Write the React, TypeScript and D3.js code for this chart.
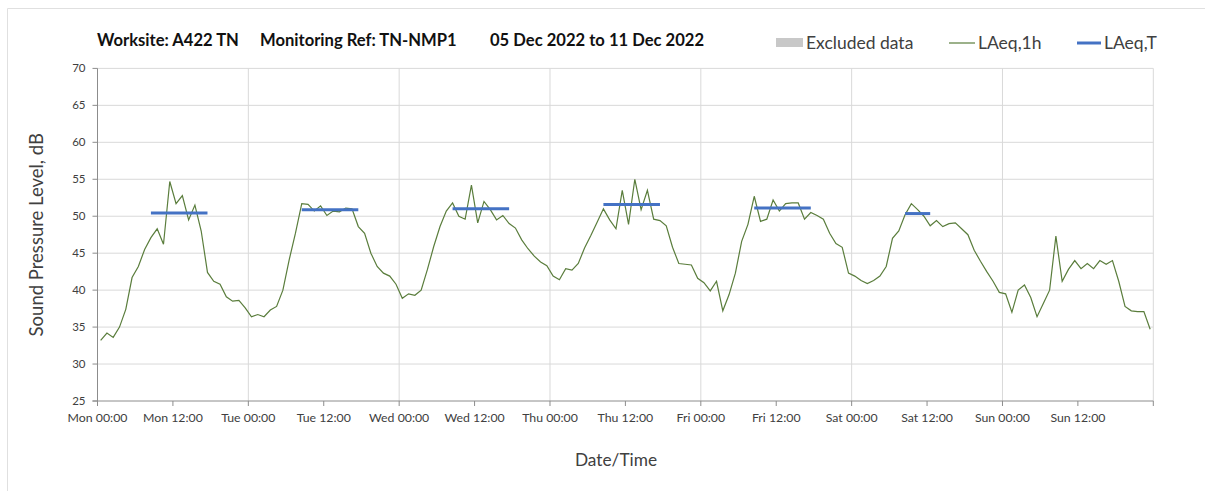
import React from 'react';
import * as d3 from 'd3';

// hourly LAeq,1h readings, one array per day (00:00 .. 23:00)
const monday = [33.2, 34.2, 33.6, 35.0, 37.4, 41.7, 43.2, 45.5, 47.1, 48.3, 46.2, 54.7, 51.7, 52.8, 49.5, 51.5, 48.0, 42.4, 41.2, 40.8, 39.1, 38.5, 38.6, 37.6];
const tuesday = [36.4, 36.7, 36.4, 37.3, 37.8, 40.0, 44.1, 47.7, 51.7, 51.6, 50.7, 51.4, 50.1, 50.7, 50.6, 51.1, 51.0, 48.6, 47.7, 45.0, 43.2, 42.3, 41.9, 40.8];
const wednesday = [38.9, 39.5, 39.3, 40.0, 42.8, 45.9, 48.6, 50.7, 51.8, 50.0, 49.6, 54.2, 49.1, 52.0, 50.9, 49.5, 50.1, 49.0, 48.4, 46.8, 45.6, 44.6, 43.8, 43.3];
const thursday = [41.9, 41.4, 42.9, 42.7, 43.6, 45.7, 47.4, 49.2, 51.0, 49.5, 48.3, 53.5, 48.9, 55.0, 50.9, 53.5, 49.6, 49.4, 48.7, 45.8, 43.6, 43.5, 43.4, 41.6];
const friday = [41.0, 39.9, 41.2, 37.2, 39.4, 42.3, 46.6, 48.9, 52.7, 49.3, 49.6, 52.2, 50.7, 51.7, 51.8, 51.8, 49.6, 50.5, 50.1, 49.6, 47.7, 46.3, 45.8, 42.3];
const saturday = [41.9, 41.3, 40.9, 41.3, 41.9, 43.2, 47.0, 48.0, 50.2, 51.7, 50.9, 50.0, 48.7, 49.4, 48.6, 49.0, 49.1, 48.3, 47.5, 45.4, 43.9, 42.5, 41.2, 39.7];
const sunday = [39.5, 37.0, 40.0, 40.7, 39.0, 36.4, 38.2, 40.0, 47.3, 41.2, 42.8, 44.0, 42.9, 43.6, 42.9, 44.0, 43.5, 44.0, 41.2, 37.8, 37.2, 37.1, 37.1, 34.7];

// LAeq,T per daytime period: day index, first hour, last hour, level
const periodDays = [0, 1, 2, 3, 4, 5];
const periodStart = [8, 8, 8, 8, 8, 8];
const periodEnd = [17, 17, 17, 17, 17, 12];
const periodLevel = [50.45, 50.86, 51.0, 51.6, 51.1, 50.36];

const dayNames = ['Mon', 'Tue', 'Wed', 'Thu', 'Fri', 'Sat', 'Sun'];
const yTicks = [25, 30, 35, 40, 45, 50, 55, 60, 65, 70];

const FONT = 'Lato, "Open Sans", sans-serif';
const TEXT = '#404040';

export default function App() {
  const hourly = [monday, tuesday, wednesday, thursday, friday, saturday, sunday].flat();
  // readings are plotted at the middle of each hour
  const points = hourly.map((v, i) => ({ t: i + 0.5, v }));

  const x = d3.scaleLinear().domain([0, 168]).range([97.5, 1153.3]);
  const y = d3.scaleLinear().domain([25, 70]).range([401, 68.4]);

  const line = d3.line<{ t: number; v: number }>().x(d => x(d.t)).y(d => y(d.v));

  const xTicks = d3.range(0, 169, 12);
  const dayLines = d3.range(24, 169, 24);

  const periods = periodDays.map((d, i) => ({
    t0: d * 24 + periodStart[i] + 0.5,
    t1: d * 24 + periodEnd[i] + 0.5,
    v: periodLevel[i],
  }));

  const x0 = x.range()[0];
  const x1 = x.range()[1];
  const yb = y.range()[0];
  const yt = y.range()[1];

  return (
    <svg width={1205} height={491} style={{ position: 'absolute', left: 0, top: 0, background: '#fff' }} fontFamily={FONT}>
      {/* chart frame */}
      <line x1={7.5} x2={1205} y1={8.5} y2={8.5} stroke="#e0e0e0" />
      <line x1={7.5} x2={7.5} y1={8.5} y2={491} stroke="#e0e0e0" />

      {/* title */}
      <g fontWeight="bold" fontSize={16.6} fill="#111">
        <text x={97} y={46}>Worksite: A422 TN</text>
        <text x={260} y={46}>Monitoring Ref: TN-NMP1</text>
        <text x={490} y={46}>05 Dec 2022 to 11 Dec 2022</text>
      </g>

      {/* legend */}
      <g fontSize={17.5} fill={TEXT}>
        <rect x={776} y={38} width={27} height={9} fill="#c8c8c8" />
        <text x={806} y={49}>Excluded data</text>
        <line x1={949} x2={975} y1={43} y2={43} stroke="#5a7d3c" strokeWidth={1.2} />
        <text x={978} y={49}>LAeq,1h</text>
        <line x1={1077} x2={1101} y1={43} y2={43} stroke="#4472c4" strokeWidth={3} />
        <text x={1104} y={49}>LAeq,T</text>
      </g>

      {/* gridlines */}
      {yTicks.slice(1).map(v => (
        <line key={'h' + v} x1={x0} x2={x1} y1={y(v)} y2={y(v)} stroke="#d9d9d9" />
      ))}
      {dayLines.map(t => (
        <line key={'v' + t} x1={x(t)} x2={x(t)} y1={yt} y2={yb} stroke="#d9d9d9" />
      ))}

      {/* axes */}
      <line x1={x0} x2={x0} y1={yt} y2={yb + 5} stroke="#8c8c8c" />
      <line x1={x0 - 5} x2={x1} y1={yb} y2={yb} stroke="#8c8c8c" />
      {yTicks.map(v => (
        <g key={'yt' + v}>
          <line x1={x0 - 5} x2={x0} y1={y(v)} y2={y(v)} stroke="#8c8c8c" />
          <text x={x0 - 12} y={y(v) + 4} fontSize={11.5} fill={TEXT} textAnchor="end">{v}</text>
        </g>
      ))}
      {xTicks.map(t => (
        <g key={'xt' + t}>
          <line x1={x(t)} x2={x(t)} y1={yb} y2={yb + 5} stroke="#8c8c8c" />
          {t < 168 && (
            <text x={x(t)} y={yb + 21} fontSize={12.3} fill={TEXT} textAnchor="middle">
              {`${dayNames[Math.floor(t / 24)]} ${t % 24 === 0 ? '00' : '12'}:00`}
            </text>
          )}
        </g>
      ))}

      {/* axis titles */}
      <text x={616} y={466} fontSize={17.3} fill={TEXT} textAnchor="middle">Date/Time</text>
      <text transform={`translate(43, ${(yt + yb) / 2}) rotate(-90)`} fontSize={18.5} fill={TEXT} textAnchor="middle">
        Sound Pressure Level, dB
      </text>

      {/* LAeq,1h */}
      <path d={line(points) || ''} fill="none" stroke="#5a7d3c" strokeWidth={1.2} />

      {/* LAeq,T */}
      {periods.map((p, i) => (
        <line key={'p' + i} x1={x(p.t0)} x2={x(p.t1)} y1={y(p.v)} y2={y(p.v)} stroke="#4472c4" strokeWidth={3} />
      ))}
    </svg>
  );
}
